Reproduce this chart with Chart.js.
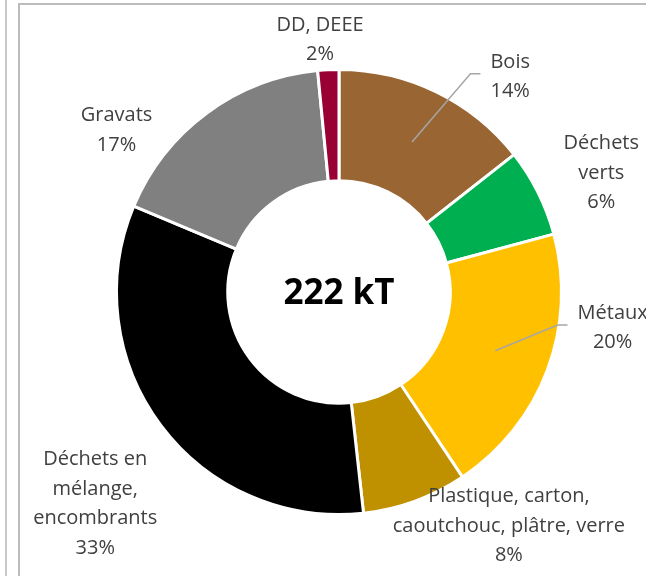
<!DOCTYPE html>
<html>
<head>
<meta charset="utf-8">
<script src="https://cdn.jsdelivr.net/npm/chart.js@4.4.1/dist/chart.umd.min.js"></script>
<style>
  html, body { margin: 0; padding: 0; background: #fff; overflow: hidden; }
  #wrap { position: relative; width: 646px; height: 576px; }
  .edge { position: absolute; left: 5px; top: 0; height: 576px; border-left: 2px solid #c8c8c8; }
  .frame { position: absolute; left: 18px; top: 3px; width: 700px; height: 700px; border: 2px solid #bcbcbc; }
  canvas { position: absolute; left: 0; top: 0; }
</style>
</head>
<body>
<div id="wrap">
  <div class="edge"></div>
  <div class="frame"></div>
  <canvas id="myChart" width="646" height="576"></canvas>
</div>
<script>
// categories (one entry per line of the label), clockwise from 12 o'clock
var categories = [
  ['Bois'],
  ['Déchets', 'verts'],
  ['Métaux'],
  ['Plastique, carton,', 'caoutchouc, plâtre, verre'],
  ['Déchets en', 'mélange,', 'encombrants'],
  ['Gravats'],
  ['DD, DEEE']
]
// tonnages in kT
var tonnages = [32.0, 14.2, 44.0, 16.9, 73.4, 38.1, 3.4]
var colors = ['#996633', '#00B050', '#FFC000', '#BF9000', '#000000', '#808080', '#990033']

// where each label sits: angle (deg, clockwise from top) and distance from the centre
var labelPlace = [
  { angle: 38.5, dist: 275, leader: true },
  { angle: 65.6, dist: 288 },
  { angle: 97.5, dist: 276, leader: true },
  { angle: 144, dist: 289 },
  { angle: 229, dist: 323 },
  { angle: 306, dist: 275 },
  { angle: 355.7, dist: 253 }
]

var total = tonnages.reduce(function (a, b) { return a + b }, 0)

function getPercents(data) {
  var out = []
  for (var i = 0; i < data.length; i++) {
    out.push(Math.round(data[i] / total * 100) + '%')
  }
  return out
}
var percents = getPercents(tonnages)

var labelPlugin = {
  id: 'outerLabels',
  afterDatasetsDraw: function (chart) {
    var ctx = chart.ctx
    var arcs = chart.getDatasetMeta(0).data
    var cx = arcs[0].x, cy = arcs[0].y
    ctx.save()
    // total in the hole
    ctx.font = 'bold 35px "Open Sans"'
    ctx.fillStyle = '#000'
    ctx.textAlign = 'center'
    ctx.textBaseline = 'middle'
    ctx.fillText(Math.round(total) + ' kT', cx, cy + 2)

    ctx.font = '20px "Open Sans"'
    var lh = 29.5
    for (var i = 0; i < arcs.length; i++) {
      var p = labelPlace[i]
      var a = (p.angle - 90) * Math.PI / 180
      var lx = cx + Math.cos(a) * p.dist
      var ly = cy + Math.sin(a) * p.dist
      var lines = categories[i].concat([percents[i]])
      var y0 = ly - (lines.length - 1) * lh / 2
      var w = 0
      ctx.fillStyle = '#404040'
      for (var k = 0; k < lines.length; k++) {
        ctx.fillText(lines[k], lx, y0 + k * lh)
        w = Math.max(w, ctx.measureText(lines[k]).width)
      }
      if (p.leader) {
        var arc = arcs[i]
        var mid = (arc.startAngle + arc.endAngle) / 2
        var mr = (arc.innerRadius + arc.outerRadius) / 2
        var sx = cx + Math.cos(mid) * mr
        var sy = cy + Math.sin(mid) * mr
        var ex = lx - w / 2 - 10
        var ey = ly - 3
        ctx.strokeStyle = '#a6a6a6'
        ctx.lineWidth = 1.5
        ctx.beginPath()
        ctx.moveTo(sx, sy)
        ctx.lineTo(ex - 10, ey)
        ctx.lineTo(ex, ey)
        ctx.stroke()
      }
    }
    ctx.restore()
  }
}

function draw() {
  var ctx = document.querySelector('#myChart').getContext('2d')
  new Chart(ctx, {
    type: 'doughnut',
    data: {
      labels: categories.map(function (c) { return c.join(' ') }),
      datasets: [{
        data: tonnages,
        backgroundColor: colors,
        borderColor: '#ffffff',
        borderWidth: 3,
        hoverOffset: 0
      }]
    },
    options: {
      responsive: false,
      animation: false,
      cutout: '50%',
      layout: { padding: { left: 115, right: 83, top: 68, bottom: 60 } },
      plugins: {
        legend: { display: false },
        tooltip: { enabled: false }
      }
    },
    plugins: [labelPlugin]
  })
}

Promise.all([
  document.fonts.load('20px "Open Sans"'),
  document.fonts.load('bold 35px "Open Sans"')
]).then(draw, draw)
</script>
</body>
</html>
